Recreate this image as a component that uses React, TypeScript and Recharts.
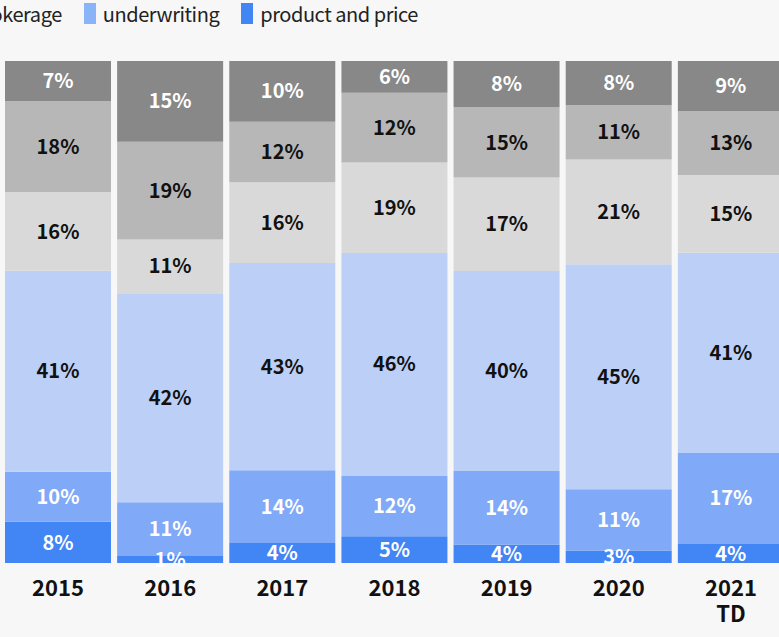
import React from 'react';
import { BarChart, Bar, XAxis, YAxis, LabelList } from 'recharts';

// Categories
const years = ['2015', '2016', '2017', '2018', '2019', '2020', '2021\nTD'];

// Segment heights (share of each bar, %), bottom to top
const productPrice = [8.2, 1.4, 4.0, 5.3, 3.7, 2.5, 3.8];
const underwriting = [10.0, 10.7, 14.5, 12.1, 14.6, 12.2, 18.2];
const brokerage = [40.0, 41.7, 41.3, 44.3, 39.8, 44.8, 39.8];
const segment4 = [15.7, 10.7, 16.1, 18.0, 18.6, 20.9, 15.5];
const segment5 = [18.1, 19.5, 12.1, 13.9, 14.0, 10.8, 12.7];
const segment6 = [8.0, 16.1, 12.1, 6.3, 9.2, 8.8, 10.0];

// Printed labels (%)
const productPriceLabels = [8, 1, 4, 5, 4, 3, 4];
const underwritingLabels = [10, 11, 14, 12, 14, 11, 17];
const brokerageLabels = [41, 42, 43, 46, 40, 45, 41];
const segment4Labels = [16, 11, 16, 19, 17, 21, 15];
const segment5Labels = [18, 19, 12, 12, 15, 11, 13];
const segment6Labels = [7, 15, 10, 6, 8, 8, 9];

const FONT = '"Noto Sans CJK SC", "Noto Sans", sans-serif';

const data = years.map((year, i) => ({
  year,
  pp: productPrice[i],
  uw: underwriting[i],
  br: brokerage[i],
  s4: segment4[i],
  s5: segment5[i],
  s6: segment6[i],
  ppL: productPriceLabels[i],
  uwL: underwritingLabels[i],
  brL: brokerageLabels[i],
  s4L: segment4Labels[i],
  s5L: segment5Labels[i],
  s6L: segment6Labels[i],
}));

const series = [
  { key: 'pp', label: 'ppL', name: 'product and price', color: '#4285f4', text: '#ffffff' },
  { key: 'uw', label: 'uwL', name: 'underwriting', color: '#80aaf7', text: '#ffffff' },
  { key: 'br', label: 'brL', name: 'brokerage', color: '#bccff7', text: '#111111' },
  { key: 's4', label: 's4L', name: 'segment 4', color: '#d9d9d9', text: '#111111' },
  { key: 's5', label: 's5L', name: 'segment 5', color: '#b7b7b7', text: '#111111' },
  { key: 's6', label: 's6L', name: 'segment 6', color: '#888888', text: '#ffffff' },
];

const legendItems = [
  { name: 'brokerage', color: '#bccff7' },
  { name: 'underwriting', color: '#8ab4f8' },
  { name: 'product and price', color: '#4285f4' },
];

const YearTick = (props: any) => {
  const { x, y, payload } = props;
  const lines = String(payload.value).split('\n');
  return (
    <text x={x} y={y} textAnchor="middle" fontFamily={FONT} fontWeight={700} fontSize={22} fill="#111">
      {lines.map((l, k) => (
        <tspan key={k} x={x} dy={k === 0 ? 25 : 26}>
          {l}
        </tspan>
      ))}
    </text>
  );
};

export default function App() {
  return (
    <div
      style={{
        position: 'absolute',
        left: 0,
        top: 0,
        width: 779,
        height: 637,
        overflow: 'hidden',
        background: '#f7f7f7',
        fontFamily: FONT,
      }}
    >
      <div
        style={{
          position: 'absolute',
          right: 361,
          top: 3,
          display: 'flex',
          alignItems: 'center',
          whiteSpace: 'nowrap',
        }}
      >
        {legendItems.map((it, i) => (
          <div key={it.name} style={{ display: 'flex', alignItems: 'center', marginLeft: i === 0 ? 0 : 22 }}>
            <div style={{ width: 12, height: 21, background: it.color, marginRight: 7 }} />
            <span style={{ fontSize: 20, lineHeight: '21px', letterSpacing: '-0.45px', color: '#222' }}>{it.name}</span>
          </div>
        ))}
      </div>
      <div style={{ position: 'absolute', left: 0, top: 0 }}>
        <BarChart
          width={790}
          height={637}
          data={data}
          stackOffset="expand"
          barCategoryGap={3}
          margin={{ top: 61, right: 3, bottom: 0, left: 2 }}
        >
          <XAxis
            dataKey="year"
            axisLine={false}
            tickLine={false}
            interval={0}
            height={74}
            tick={<YearTick />}
          />
          <YAxis hide domain={[0, 1]} />
          {series.map((s) => (
            <Bar key={s.key} dataKey={s.key} name={s.name} stackId="a" fill={s.color} isAnimationActive={false}>
              <LabelList
                dataKey={s.label}
                position="center"
                fill={s.text}
                fontFamily={FONT}
                fontWeight={700}
                fontSize={20}
                formatter={(v: any) => `${v}%`}
              />
            </Bar>
          ))}
        </BarChart>
      </div>
    </div>
  );
}
